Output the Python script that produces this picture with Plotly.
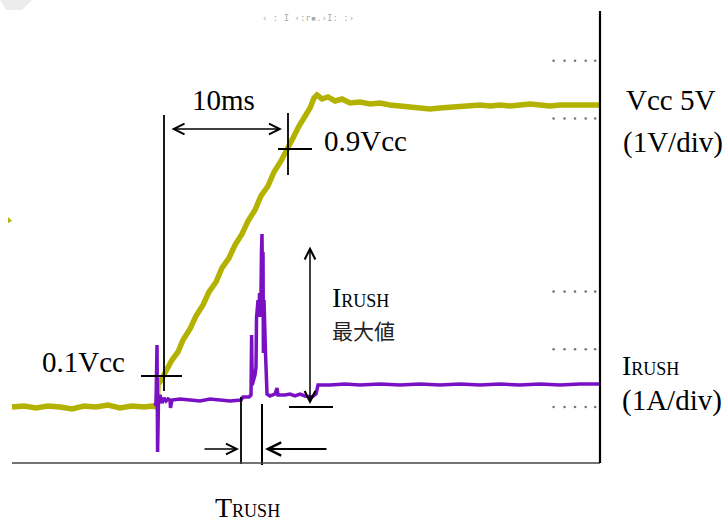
import plotly.graph_objects as go

# ---------------- data (time in ms, Vcc in V, current in A) ----------------
vcc_t = [-11.984, -11.032, -10.079, -9.127, -8.175, -7.222, -6.270, -5.317, -4.365,
         -3.413, -2.460, -1.508, -0.873, -0.476,
         -0.437, -0.397, -0.238, 0.0, 0.397, 0.714, 1.190, 1.587, 2.143, 2.619, 3.175,
         3.651, 4.206, 4.683, 5.238, 5.714, 6.270, 6.746, 7.302, 7.778, 8.333, 8.810,
         9.365, 9.841, 10.317, 10.794, 11.270, 11.667, 11.984, 12.222, 12.619, 13.095,
         13.651, 14.206, 14.841, 15.635, 16.429, 17.222, 18.016, 18.810, 19.603, 20.397,
         21.190, 21.984, 22.778, 23.571, 24.365, 25.159, 25.952, 26.746, 27.540, 28.333,
         29.127, 29.921, 30.714, 31.508, 32.302, 33.095, 33.889, 34.603]
vcc_v = [0.0, 0.017, -0.017, 0.017, 0.0, -0.033, 0.017, 0.0, 0.033,
         -0.017, 0.017, 0.0, 0.017, 0.0,
         0.15, 0.383, 0.417, 0.517, 0.65, 0.783, 0.917, 1.117, 1.30, 1.517, 1.70,
         1.917, 2.083, 2.317, 2.483, 2.70, 2.883, 3.10, 3.283, 3.517, 3.683, 3.917,
         4.10, 4.317, 4.483, 4.683, 4.833, 4.983, 5.15, 5.20, 5.133, 5.167,
         5.10, 5.133, 5.067, 5.083, 5.05, 5.067, 5.033, 5.017, 5.017, 4.983,
         4.967, 4.983, 5.0, 5.017, 5.017, 5.033, 5.017, 5.033, 5.017, 5.033,
         5.05, 5.033, 5.017, 5.033, 5.033, 5.05, 5.033, 5.033]

irush_t = [-0.714, -0.556, -0.476, -0.429, -0.357, -0.238, -0.079, 0.079, 0.238, 0.397,
           0.556, 0.595, 0.714, 1.349, 2.143, 2.937, 3.730, 4.524, 5.317, 6.190,
           6.349, 6.825, 6.984, 7.032, 7.079, 7.302, 7.341, 7.381, 7.421, 7.540,
           7.619, 7.659, 7.698, 7.778, 7.817, 7.857, 7.897, 7.937, 7.968, 8.016,
           8.135, 8.175, 8.254, 8.492, 8.889, 9.048, 9.127, 9.683, 10.079, 10.476,
           10.873, 11.270, 11.825, 12.143, 12.302, 13.254, 14.444, 15.635, 17.222, 18.810,
           20.397, 21.984, 23.571, 25.159, 26.746, 28.333, 29.921, 31.508, 33.095, 34.603]
irush_a = [0.035, 0.052, 1.075, -0.780, 0.121, 0.208, 0.069, 0.156, 0.104, 0.139,
           0.121, -0.017, 0.121, 0.139, 0.121, 0.104, 0.139, 0.121, 0.104, 0.121,
           0.173, 0.173, 0.208, 1.248, 0.381, 0.555, 0.641, 0.693, 1.542, 1.854,
           1.560, 1.976, 1.560, 1.976, 2.721, 2.998, 2.028, 2.686, 0.936, 1.854,
           0.936, 0.589, 0.225, 0.191, 0.225, 0.329, 0.208, 0.208, 0.225, 0.191,
           0.225, 0.191, 0.173, 0.225, 0.381, 0.381, 0.399, 0.381, 0.399, 0.381,
           0.399, 0.381, 0.399, 0.381, 0.399, 0.381, 0.399, 0.381, 0.399, 0.399]

# scope graticule marks (current divisions) and their dot positions (ms)
grat_divs = [0, 1, 2, 5, 6]
grat_dot_t = [31.0, 31.87, 32.7, 33.55, 34.3]

YELLOW = "#B4B200"
PURPLE = "#7A10C4"
SERIF = "Liberation Serif"

W, H = 726, 522
def px(x):
    return x / W
def py(y):
    return 1 - y / H

fig = go.Figure()

gx, gy = [], []
for d in grat_divs:
    for t in grat_dot_t:
        gx.append(t)
        gy.append(d)
fig.add_trace(go.Scatter(x=gx, y=gy, yaxis="y2", mode="markers",
                         marker=dict(size=2.6, color="#777777"), hoverinfo="skip"))

fig.add_trace(go.Scatter(x=vcc_t, y=vcc_v, mode="lines", name="Vcc",
                         line=dict(color=YELLOW, width=5.5)))
fig.add_trace(go.Scatter(x=irush_t, y=irush_a, yaxis="y2", mode="lines", name="IRUSH",
                         line=dict(color=PURPLE, width=3.5)))

shapes = []
def hline(x0, x1, y, w=1.8, c="black"):
    shapes.append(dict(type="line", xref="paper", yref="paper", x0=px(x0), x1=px(x1),
                       y0=py(y), y1=py(y), line=dict(color=c, width=w)))
def vline(x, y0, y1, w=1.8, c="black"):
    shapes.append(dict(type="line", xref="paper", yref="paper", x0=px(x), x1=px(x),
                       y0=py(y0), y1=py(y1), line=dict(color=c, width=w)))

vline(164, 115, 391)
hline(141, 182, 376)
vline(288, 113, 175)
hline(278, 312, 149)
vline(241, 397, 464)
vline(262, 404, 465, w=2)
hline(289, 333, 407)
hline(12, 600, 463, w=1.5, c="#444444")
vline(600, 11, 463, w=2.2)
shapes.append(dict(type="path", xref="paper", yref="paper",
                   path=f"M {px(0)},{py(0)} L {px(32)},{py(0)} L {px(22)},{py(10)} L {px(6)},{py(10)} Z",
                   fillcolor="#ececec", line=dict(width=0)))
shapes.append(dict(type="path", xref="paper", yref="paper",
                   path=f"M {px(8)},{py(217)} L {px(12)},{py(221)} L {px(8)},{py(223)} Z",
                   fillcolor=YELLOW, line=dict(width=0)))

ann = []
def text(x, y, s, size=29, anchor="left", font=SERIF, color="black"):
    ann.append(dict(xref="paper", yref="paper", x=px(x), y=py(y), text=s, showarrow=False,
                    xanchor=anchor, yanchor="middle",
                    font=dict(family=font, size=size, color=color)))
def arrow(hx, hy, tx, ty, double=False, size=1.4, w=1.5):
    d = dict(xref="paper", yref="paper", x=px(hx), y=py(hy), ax=tx - hx, ay=ty - hy,
             text="", showarrow=True, arrowhead=5, arrowsize=size, arrowwidth=w,
             arrowcolor="black", standoff=0, startstandoff=0)
    if double:
        d.update(arrowside="end+start", startarrowhead=5, startarrowsize=size)
    ann.append(d)

arrow(282, 129, 170, 129, double=True)
arrow(310, 404, 310, 245, double=True)
arrow(239, 449, 203, 449, size=1.5, w=1.4)
arrow(265, 449, 328, 449, size=1.45, w=1.8)

text(223, 100, "10ms", anchor="center")
text(322, 141, "0.9Vcc")
text(624, 100, "Vcc 5V")
text(621, 142, "(1V/div)")
text(40, 362, "0.1Vcc")
text(330, 297, "I<span style='font-size:18px'>RUSH</span>", size=28)
text(330, 330, "最大値", size=21, font="Noto Sans CJK JP", color="#222222")
text(620, 365, "I<span style='font-size:18px'>RUSH</span>", size=28)
text(620, 400, "(1A/div)")
text(213, 507, "T<span style='font-size:18px'>RUSH</span>", size=28)
text(260, 18, "‹ : I ‹:r▪.›I: :›", size=9, font="DejaVu Sans Mono", color="#aaaaaa")

fig.update_layout(
    width=W, height=H, margin=dict(l=0, r=0, t=0, b=0),
    paper_bgcolor="white", plot_bgcolor="white", showlegend=False,
    xaxis=dict(range=[-12.937, 44.683], visible=False, domain=[0, 1]),
    yaxis=dict(range=[-1.917, 6.783], visible=False, domain=[0, 1]),
    yaxis2=dict(range=[-1.993, 7.054], visible=False, overlaying="y"),
    shapes=shapes, annotations=ann,
)
fig.write_html("out.html", config={"displayModeBar": False},
               post_script="document.body.style.margin='0';document.body.style.padding='0';")
